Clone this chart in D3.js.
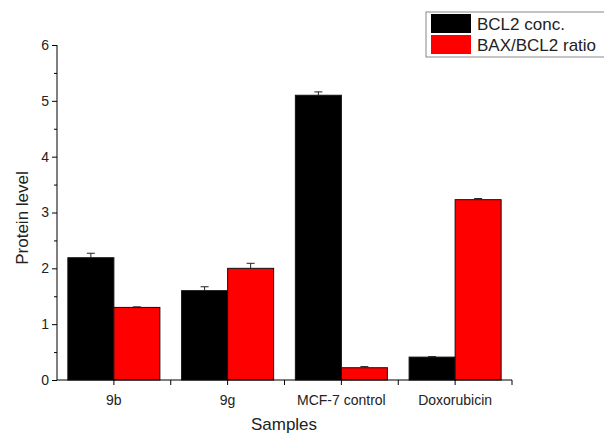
<!DOCTYPE html>
<html>
<head>
<meta charset="utf-8">
<script src="https://cdn.jsdelivr.net/npm/d3@7"></script>
<style>
  body { margin: 0; background: #fff; }
  svg { font-family: Arial, "Liberation Sans", sans-serif; }
</style>
</head>
<body>
<div id="main"></div>
<script>
const w = 604, h = 434
const samples = ['9b', '9g', 'MCF-7 control', 'Doxorubicin']
const series = ['BCL2 conc.', 'BAX/BCL2 ratio']
const bcl2 = [2.19, 1.60, 5.10, 0.41]
const bcl2Err = [0.08, 0.07, 0.06, 0.01]
const ratio = [1.30, 2.00, 0.22, 3.23]
const ratioErr = [0.01, 0.09, 0.02, 0.02]
const yTicks = [0, 1, 2, 3, 4, 5, 6]
const colors = ['#000000', '#ff0000']

const svg = d3.select('#main')
            .append('svg')
            .attr('width', w)
            .attr('height', h)

const x0 = d3.scaleBand()
            .domain(samples)
            .range([57, 512])

const x1 = d3.scaleBand()
            .domain(series)
            .range([0, x0.bandwidth()])
            .paddingOuter(0.236)

const yScale = d3.scaleLinear()
            .domain([0, 6])
            .range([380, 45])

const rows = samples.map((s, i) => [
    {s, k: series[0], v: bcl2[i], e: bcl2Err[i], c: colors[0]},
    {s, k: series[1], v: ratio[i], e: ratioErr[i], c: colors[1]}
]).flat()

// bars
svg.append('g').selectAll('rect')
    .data(rows)
    .enter()
    .append('rect')
    .attr('x', d => x0(d.s) + x1(d.k))
    .attr('y', d => yScale(d.v))
    .attr('width', x1.bandwidth())
    .attr('height', d => yScale(0) - yScale(d.v))
    .attr('fill', d => d.c)
    .attr('stroke', '#111')
    .attr('stroke-width', 1)

// error bars (upper only)
const err = svg.append('g').attr('stroke', '#222').attr('stroke-width', 1)
rows.forEach(d => {
    const cx = x0(d.s) + x1(d.k) + x1.bandwidth() / 2
    err.append('line')
        .attr('x1', cx).attr('x2', cx)
        .attr('y1', yScale(d.v)).attr('y2', yScale(d.v + d.e))
    err.append('line')
        .attr('x1', cx - 4).attr('x2', cx + 4)
        .attr('y1', yScale(d.v + d.e)).attr('y2', yScale(d.v + d.e))
})

// y axis
const yAxis = d3.axisLeft(yScale)
            .tickValues(yTicks)
            .tickSize(5)
            .tickFormat(d3.format('d'))
const yg = svg.append('g')
    .attr('transform', 'translate(57,0)')
    .call(yAxis)
yg.select('.domain').attr('d', 'M0,' + yScale(6) + 'V' + yScale(0))
yg.selectAll('text').style('font-size', '14px').attr('fill', '#222')

const yMinor = d3.axisLeft(yScale)
            .tickValues(d3.range(0.5, 6, 1))
            .tickSize(3)
            .tickFormat('')
svg.append('g')
    .attr('transform', 'translate(57,0)')
    .call(yMinor)
    .select('.domain').remove()

// x axis
const xg = svg.append('g').attr('transform', 'translate(0,380)')
xg.append('line')
    .attr('x1', 57).attr('x2', 512)
    .attr('stroke', '#000')
const xTickPos = samples.map(s => x0(s) + x0.bandwidth() / 2)
    .concat(samples.map(s => x0(s) + x0.bandwidth()))
xg.selectAll('.tk')
    .data(xTickPos)
    .enter()
    .append('line')
    .attr('x1', d => d).attr('x2', d => d)
    .attr('y1', 0).attr('y2', 5)
    .attr('stroke', '#000')
xg.selectAll('.lbl')
    .data(samples)
    .enter()
    .append('text')
    .attr('x', d => x0(d) + x0.bandwidth() / 2)
    .attr('y', 25)
    .attr('text-anchor', 'middle')
    .attr('fill', '#222')
    .style('font-size', '14px')
    .text(d => d)

// axis titles
svg.append('text')
    .text('Samples')
    .attr('x', 284)
    .attr('y', 430)
    .attr('text-anchor', 'middle')
    .attr('fill', '#222')
    .style('font-size', '17px')

svg.append('text')
    .text('Protein level')
    .attr('transform', 'translate(28,218) rotate(-90)')
    .attr('text-anchor', 'middle')
    .attr('fill', '#222')
    .style('font-size', '17px')

// legend
const legend = svg.append('g').attr('id', 'legend')
legend.append('rect')
    .attr('x', 426).attr('y', 12)
    .attr('width', 190).attr('height', 45)
    .attr('fill', '#fff')
    .attr('stroke', '#888')
series.forEach((s, i) => {
    legend.append('rect')
        .attr('x', 431).attr('y', 14 + i * 21)
        .attr('width', 40).attr('height', 19)
        .attr('fill', colors[i])
    legend.append('text')
        .attr('x', 477).attr('y', 30 + i * 21)
        .attr('fill', '#222')
        .style('font-size', '17px')
        .text(s)
})
</script>
</body>
</html>
